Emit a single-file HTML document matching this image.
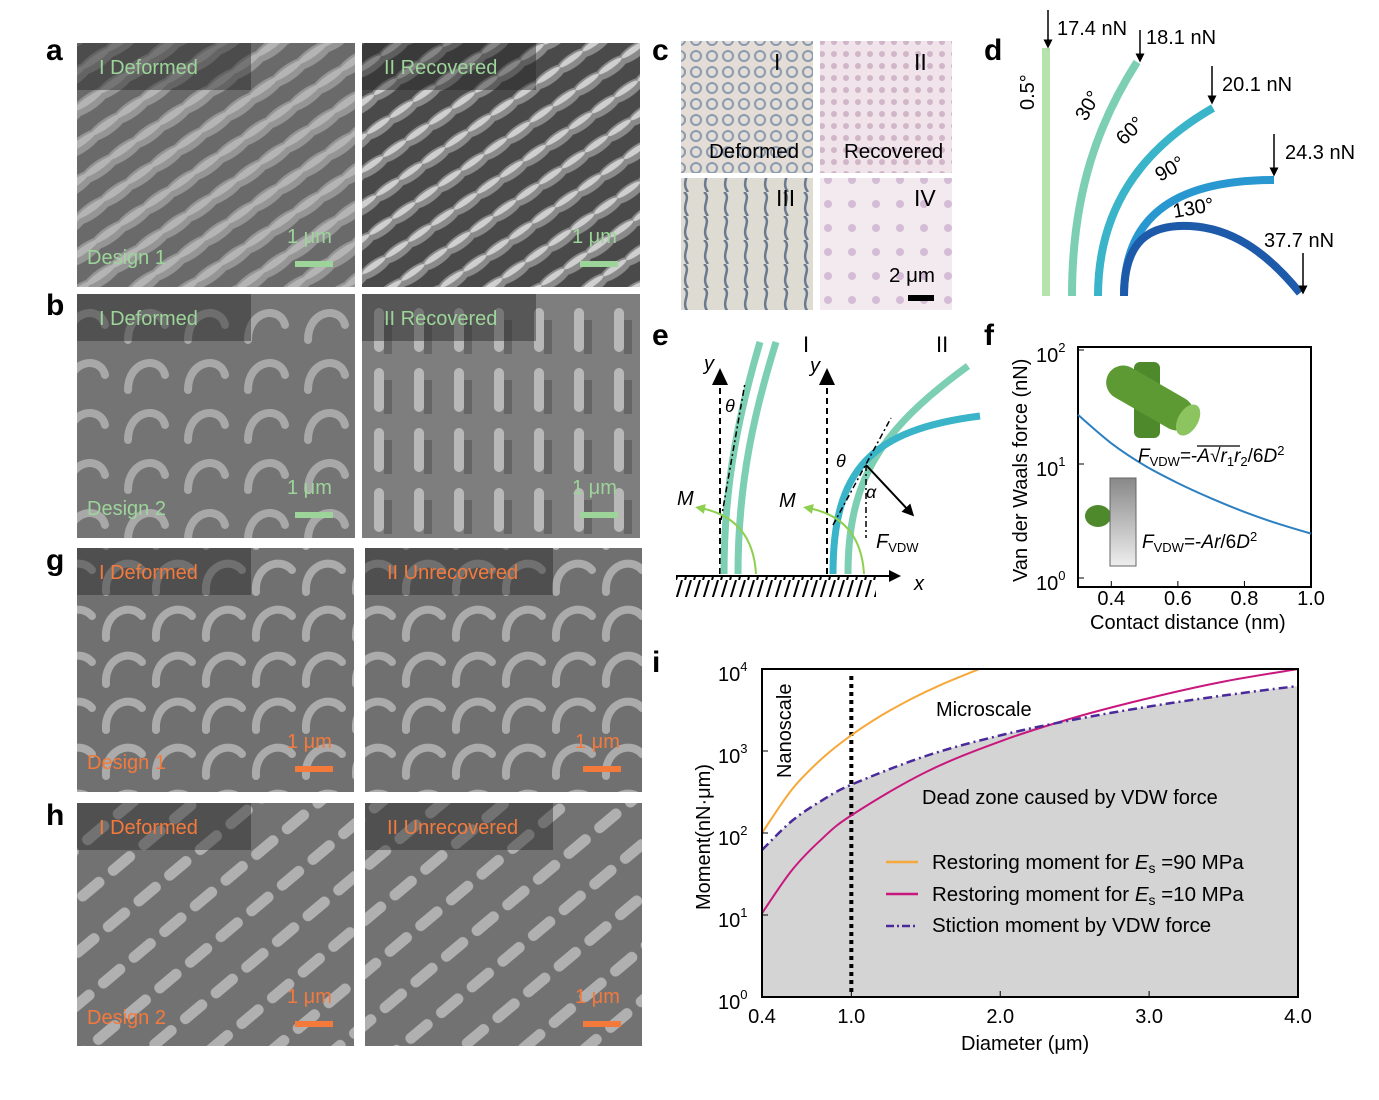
<!DOCTYPE html>
<html><head><meta charset="utf-8"><style>
html,body{margin:0;padding:0;background:#fff}
svg{display:block;font-family:"Liberation Sans",sans-serif}
</style></head><body>
<svg id="fig" width="1379" height="1100" viewBox="0 0 1379 1100">
<defs>
<pattern id="pillA" width="30" height="30" patternUnits="userSpaceOnUse" patternTransform="rotate(-35)">
<rect width="30" height="30" fill="#6a6a6a"/><ellipse cx="15" cy="15" rx="24" ry="8" fill="#959595"/><ellipse cx="15" cy="13" rx="18" ry="3.5" fill="#b4b4b4"/></pattern>
<pattern id="pillB" width="28" height="28" patternUnits="userSpaceOnUse" patternTransform="rotate(-35)">
<rect width="28" height="28" fill="#4a4a4a"/><ellipse cx="14" cy="14" rx="20" ry="7" fill="#8a8a8a"/><ellipse cx="14" cy="12" rx="14" ry="3" fill="#cfcfcf"/></pattern>
<pattern id="curl" width="60" height="50" patternUnits="userSpaceOnUse">
<rect width="60" height="50" fill="#747474"/><path d="M8 40 C8 10 40 5 45 25" stroke="#a8a8a8" stroke-width="8" fill="none" stroke-linecap="round"/></pattern>
<pattern id="stand" width="40" height="60" patternUnits="userSpaceOnUse">
<rect width="40" height="60" fill="#7e7e7e"/><rect x="14" y="8" width="10" height="44" rx="5" fill="#b8b8b8"/><rect x="24" y="20" width="8" height="34" fill="#666"/></pattern>
<pattern id="curl2" width="50" height="46" patternUnits="userSpaceOnUse">
<rect width="50" height="46" fill="#707070"/><path d="M6 40 C4 14 30 4 42 18" stroke="#ababab" stroke-width="8" fill="none" stroke-linecap="round"/></pattern>
<pattern id="diag" width="40" height="40" patternUnits="userSpaceOnUse" patternTransform="rotate(-40)">
<rect width="40" height="40" fill="#727272"/><rect x="2" y="14" width="32" height="11" rx="5" fill="#b0b0b0"/></pattern>
<pattern id="dots1" width="16" height="16" patternUnits="userSpaceOnUse">
<rect width="16" height="16" fill="#e4ddd6"/><circle cx="8" cy="8" r="5" fill="none" stroke="#8a9ab0" stroke-width="2"/></pattern>
<pattern id="dots2" width="12" height="12" patternUnits="userSpaceOnUse">
<rect width="12" height="12" fill="#f0e4ea"/><circle cx="6" cy="6" r="3" fill="#d0b6c8"/></pattern>
<pattern id="wavy" width="20" height="24" patternUnits="userSpaceOnUse">
<rect width="20" height="24" fill="#dedbd2"/><path d="M4 0 C12 6 0 14 8 24" stroke="#6a7a90" stroke-width="2.5" fill="none"/></pattern>
<pattern id="dots4" width="24" height="24" patternUnits="userSpaceOnUse">
<rect width="24" height="24" fill="#f2eaee"/><circle cx="12" cy="12" r="4" fill="#d4bcd6"/></pattern>
<pattern id="hatch" width="9" height="20" patternUnits="userSpaceOnUse"><path d="M7 0 L1 20" stroke="#000" stroke-width="2"/></pattern>
<marker id="ah" viewBox="0 0 10 10" refX="5" refY="5" markerWidth="6" markerHeight="6" orient="auto"><path d="M0 0 L10 5 L0 10z" fill="#000"/></marker>
<marker id="ahg" viewBox="0 0 10 10" refX="5" refY="5" markerWidth="5" markerHeight="5" orient="auto"><path d="M0 0 L10 5 L0 10z" fill="#8dcf4f"/></marker>
</defs>

<g>
<text x="46" y="60" font-size="30" font-weight="bold">a</text>
<rect x="77" y="43" width="278" height="244" fill="url(#pillA)"/>
<rect x="362" y="43" width="278" height="244" fill="url(#pillB)"/>
</g>
<g>
<text x="46" y="315" font-size="30" font-weight="bold">b</text>
<rect x="77" y="294" width="278" height="244" fill="url(#curl)"/>
<rect x="362" y="294" width="278" height="244" fill="url(#stand)"/>
</g>
<g>
<text x="46" y="570" font-size="30" font-weight="bold">g</text>
<rect x="77" y="548" width="277" height="244" fill="url(#curl2)"/>
<rect x="365" y="548" width="277" height="244" fill="url(#curl2)"/>
</g>
<g>
<text x="46" y="825" font-size="30" font-weight="bold">h</text>
<rect x="77" y="803" width="277" height="243" fill="url(#diag)"/>
<rect x="365" y="803" width="277" height="243" fill="url(#diag)"/>
</g>
<g id="semlabels" font-size="20"></g>

<g>
<text x="652" y="60" font-size="30" font-weight="bold">c</text>
<rect x="681" y="41" width="132" height="132" fill="url(#dots1)"/>
<rect x="820" y="41" width="132" height="132" fill="url(#dots2)"/>
<rect x="681" y="178" width="132" height="132" fill="url(#wavy)"/>
<rect x="820" y="178" width="132" height="132" fill="url(#dots4)"/>
<g font-size="23"><text x="774" y="70">I</text><text x="914" y="70">II</text><text x="776" y="206">III</text><text x="914" y="206">IV</text></g>
<g font-size="20.5"><text x="709" y="158">Deformed</text><text x="844" y="158">Recovered</text><text x="889" y="282">2 μm</text></g>
<rect x="908" y="295" width="26" height="6" fill="#000"/>
</g>

<g fill="none" stroke-width="8">
<text x="984" y="60" font-size="30" font-weight="bold" fill="#000" stroke="none">d</text>
<line x1="1046" y1="296" x2="1046" y2="48" stroke="#b6e2ae"/>
<path d="M1072 296 C1072 190 1100 120 1137 62" stroke="#7ccfb3"/>
<path d="M1098 296 C1098 210 1140 150 1213 108" stroke="#39b4c8"/>
<path d="M1124 296 C1124 220 1170 180 1274 180" stroke="#2a98d0"/>
<path d="M1124 296 C1124 240 1150 224 1190 226 C1230 228 1265 250 1300 293" stroke="#1e5aaa"/>
<g stroke="#000" stroke-width="1.5" marker-end="url(#ah)">
<line x1="1048" y1="10" x2="1048" y2="44"/><line x1="1140" y1="30" x2="1140" y2="58"/>
<line x1="1212" y1="66" x2="1212" y2="100"/><line x1="1274" y1="134" x2="1274" y2="172"/><line x1="1303" y1="253" x2="1303" y2="290"/></g>
<g font-size="20" fill="#000" stroke="none">
<text x="1057" y="35">17.4 nN</text><text x="1146" y="44">18.1 nN</text><text x="1222" y="91">20.1 nN</text><text x="1285" y="159">24.3 nN</text><text x="1264" y="247">37.7 nN</text>
<text transform="translate(1034,110) rotate(-90)">0.5°</text>
<text transform="translate(1086,122) rotate(-60)">30°</text>
<text transform="translate(1124,146) rotate(-45)">60°</text>
<text transform="translate(1160,182) rotate(-30)">90°</text>
<text transform="translate(1174,218) rotate(-10)">130°</text></g>
</g>

<g>
<text x="652" y="345" font-size="30" font-weight="bold">e</text>
<line x1="676" y1="576" x2="895" y2="576" stroke="#000" stroke-width="2" marker-end="url(#ah)"/>
<rect x="676" y="577" width="200" height="20" fill="url(#hatch)"/>
<text x="914" y="590" font-size="20" font-style="italic">x</text>
<g stroke="#000" stroke-width="2" stroke-dasharray="6,4" fill="none">
<line x1="720" y1="574" x2="720" y2="372"/><line x1="827" y1="574" x2="827" y2="372"/></g>
<path d="M712 385 L720 368 L728 385z M819 385 L827 368 L835 385z"/>
<g font-size="20" font-style="italic"><text x="704" y="370">y</text><text x="810" y="372">y</text>
<text x="725" y="412" font-size="18">θ</text><text x="836" y="467" font-size="18">θ</text><text x="866" y="498" font-size="18">α</text>
<text x="677" y="505">M</text><text x="779" y="507">M</text><text x="876" y="548">F<tspan font-size="13" font-style="normal" dy="4">VDW</tspan></text></g>
<text x="803" y="352" font-size="22">I</text><text x="936" y="352" font-size="22">II</text>
<g fill="none" stroke-width="7">
<path d="M724 574 C724 480 740 410 760 342" stroke="#7ccfb3"/>
<path d="M738 574 C738 480 755 410 776 342" stroke="#7ccfb3"/>
<path d="M848 574 C848 480 880 430 968 366" stroke="#7ccfb3"/>
<path d="M833 574 C833 470 870 430 980 416" stroke="#39b4c8"/></g>
<g fill="none" stroke="#000" stroke-width="1.5" stroke-dasharray="6,3,2,3">
<line x1="721" y1="520" x2="745" y2="383"/><line x1="833" y1="525" x2="891" y2="418"/><line x1="866" y1="465" x2="866" y2="538"/></g>
<line x1="866" y1="465" x2="910" y2="512" stroke="#000" stroke-width="2" marker-end="url(#ah)"/>
<g fill="none" stroke="#8dcf4f" stroke-width="2">
<path d="M756 574 C754 540 738 515 700 508" marker-end="url(#ahg)"/>
<path d="M864 574 C862 540 846 515 808 508" marker-end="url(#ahg)"/></g>
</g>

<g>
<text x="984" y="345" font-size="30" font-weight="bold">f</text>
<rect x="1078" y="347" width="233" height="240" fill="none" stroke="#000" stroke-width="2"/>
<g id="fAxes"></g>
<path id="fCurve" fill="none" stroke="#2c7fc0" stroke-width="2"/>
<text transform="translate(1027,582) rotate(-90)" font-size="20">Van der Waals force (nN)</text>
<text x="1090" y="629" font-size="20">Contact distance (nm)</text>
<g>
<rect x="1134" y="362" width="26" height="76" rx="6" fill="#4e8a2c"/>
<g transform="translate(1150,398) rotate(30)"><rect x="-48" y="-17" width="96" height="34" rx="17" fill="#5e9a34"/><ellipse cx="44" cy="0" rx="10" ry="17" fill="#8cc460"/></g>
<ellipse cx="1098" cy="516" rx="13" ry="11" fill="#4e8a2c"/>
<defs><linearGradient id="gb" x1="0" y1="0" x2="0" y2="1"><stop offset="0" stop-color="#888"/><stop offset="1" stop-color="#eee"/></linearGradient></defs>
<rect x="1110" y="478" width="26" height="88" fill="url(#gb)" stroke="#666"/></g>
<g font-size="19"><text x="1138" y="462"><tspan font-style="italic">F</tspan><tspan font-size="13" dy="4">VDW</tspan><tspan dy="-4">=-</tspan><tspan font-style="italic">A</tspan>√<tspan font-style="italic">r</tspan><tspan font-size="13" dy="4">1</tspan><tspan font-style="italic" dy="-4">r</tspan><tspan font-size="13" dy="4">2</tspan><tspan dy="-4">/6</tspan><tspan font-style="italic">D</tspan><tspan font-size="13" dy="-7">2</tspan></text>
<line x1="1197" y1="446" x2="1240" y2="446" stroke="#000" stroke-width="1.2"/>
<text x="1142" y="548"><tspan font-style="italic">F</tspan><tspan font-size="13" dy="4">VDW</tspan><tspan dy="-4">=-</tspan><tspan font-style="italic">Ar</tspan><tspan>/6</tspan><tspan font-style="italic">D</tspan><tspan font-size="13" dy="-7">2</tspan></text></g>
</g>

<g>
<text x="652" y="672" font-size="30" font-weight="bold">i</text>
<path id="iFill" fill="#d4d4d4" stroke="none"/>
<line id="iNano" stroke="#000" stroke-width="4" stroke-dasharray="4,4"/>
<path id="iOrange" fill="none" stroke="#f6a83a" stroke-width="2"/>
<path id="iMag" fill="none" stroke="#c8187e" stroke-width="2"/>
<path id="iVdw" fill="none" stroke="#4a2a9a" stroke-width="2.5" stroke-dasharray="9,4,2,4"/>
<rect x="762" y="669" width="536" height="328" fill="none" stroke="#000" stroke-width="2"/>
<g id="iAxes"></g>
<text transform="translate(791,778) rotate(-90)" font-size="20">Nanoscale</text>
<text x="936" y="716" font-size="20">Microscale</text>
<text x="922" y="804" font-size="20">Dead zone caused by VDW force</text>
<g font-size="20.5">
<line x1="886" y1="862" x2="918" y2="862" stroke="#f6a83a" stroke-width="2.5"/><text x="932" y="869">Restoring moment for <tspan font-style="italic">E</tspan><tspan font-size="14" dy="4">s</tspan><tspan dy="-4"> =90 MPa</tspan></text>
<line x1="886" y1="894" x2="918" y2="894" stroke="#c8187e" stroke-width="2.5"/><text x="932" y="901">Restoring moment for <tspan font-style="italic">E</tspan><tspan font-size="14" dy="4">s</tspan><tspan dy="-4"> =10 MPa</tspan></text>
<line x1="886" y1="926" x2="918" y2="926" stroke="#4a2a9a" stroke-width="2.5" stroke-dasharray="8,3,2,3"/><text x="932" y="932">Stiction moment by VDW force</text></g>
<text transform="translate(710,910) rotate(-90)" font-size="20">Moment(nN·μm)</text>
<text x="961" y="1050" font-size="20">Diameter (μm)</text>
</g>
</svg>
<script>
const fDist = [0.3,0.4,0.5,0.6,0.7,0.8,0.9,1.0];
const fForce = [27,15.2,9.7,6.8,5.0,3.8,3.0,2.45];
const fXTicks = [0.4,0.6,0.8,1.0];
const fYTicks = [0,1,2];
const iDiamO = [0.4,0.6,0.8,1.0,1.2,1.4,1.6,1.86];
const iOrange = [100,338,800,1560,2700,4290,6400,10000];
const iDiam = [0.4,0.6,0.8,1.0,1.5,2.0,2.5,3.0,3.5,4.0];
const iMagenta = [10.5,35,84,164,553,1310,2560,4420,7020,10000];
const iVdw = [62,140,248,388,870,1550,2420,3490,4750,6200];
const iXTicks = [0.4,1.0,2.0,3.0,4.0];
const iYTicks = [0,1,2,3,4];

const NS="http://www.w3.org/2000/svg";
function mk(tag,attrs,parent,txt){const e=document.createElementNS(NS,tag);for(const k in attrs)e.setAttribute(k,attrs[k]);if(txt!==undefined)e.textContent=txt;parent.appendChild(e);return e;}
function pathFrom(xs,ys,fx,fy){
  const p=xs.map((x,i)=>[fx(x),fy(ys[i])]);
  let d='M'+p[0][0].toFixed(1)+' '+p[0][1].toFixed(1);
  for(let i=0;i<p.length-1;i++){
    const p0=p[Math.max(0,i-1)],p1=p[i],p2=p[i+1],p3=p[Math.min(p.length-1,i+2)];
    const c1=[p1[0]+(p2[0]-p0[0])/6,p1[1]+(p2[1]-p0[1])/6];
    const c2=[p2[0]-(p3[0]-p1[0])/6,p2[1]-(p3[1]-p1[1])/6];
    d+=' C'+c1.map(v=>v.toFixed(1)).join(' ')+' '+c2.map(v=>v.toFixed(1)).join(' ')+' '+p2[0].toFixed(1)+' '+p2[1].toFixed(1);
  }
  return d;
}

const fx=d=>1078+(d-0.3)/0.7*233;
const fy=v=>578-Math.log10(v)*114;
document.getElementById('fCurve').setAttribute('d',pathFrom(fDist,fForce,fx,fy));
const fa=document.getElementById('fAxes');
fXTicks.forEach(t=>{mk('line',{x1:fx(t),y1:587,x2:fx(t),y2:581,stroke:'#000'},fa);
const tl=mk('text',{x:fx(t),y:605,'font-size':20,'text-anchor':'middle'},fa,t.toFixed(1));

});
fYTicks.forEach(t=>{const y=fy(Math.pow(10,t));mk('line',{x1:1078,y1:y,x2:1084,y2:y,stroke:'#000'},fa);
const tl=mk('text',{x:1036,y:y+12,'font-size':20},fa);tl.innerHTML='10<tspan font-size="13" dy="-10">'+t+'</tspan>';

});

const ix=d=>762+(d-0.4)/3.6*536;
const iy=v=>997-Math.log10(v)*82;
document.getElementById('iOrange').setAttribute('d',pathFrom(iDiamO,iOrange,ix,iy));
document.getElementById('iMag').setAttribute('d',pathFrom(iDiam,iMagenta,ix,iy));
const vp=pathFrom(iDiam,iVdw,ix,iy);
document.getElementById('iVdw').setAttribute('d',vp);
document.getElementById('iFill').setAttribute('d',vp+' L1298 997 L762 997 Z');
const nl=document.getElementById('iNano');
nl.setAttribute('x1',ix(1.0));nl.setAttribute('x2',ix(1.0));nl.setAttribute('y1',676);nl.setAttribute('y2',997);
const ia=document.getElementById('iAxes');
iXTicks.forEach(t=>{mk('line',{x1:ix(t),y1:997,x2:ix(t),y2:991,stroke:'#000'},ia);
const tl=mk('text',{x:ix(t),y:1023,'font-size':20,'text-anchor':'middle'},ia,t.toFixed(1));

});
iYTicks.forEach(t=>{const y=iy(Math.pow(10,t));mk('line',{x1:762,y1:y,x2:768,y2:y,stroke:'#000'},ia);
const tl=mk('text',{x:718,y:y+12,'font-size':20},ia);tl.innerHTML='10<tspan font-size="13" dy="-10">'+t+'</tspan>';

});

const sl=document.getElementById('semlabels');
const semBoxes=[[77,43,'I Deformed','#9dd49a','Design 1'],[362,43,'II Recovered','#9dd49a',''],[77,294,'I Deformed','#9dd49a','Design 2'],[362,294,'II Recovered','#9dd49a',''],
[77,548,'I Deformed','#f47a3c','Design 1'],[365,548,'II Unrecovered','#f47a3c',''],[77,803,'I Deformed','#f47a3c','Design 2'],[365,803,'II Unrecovered','#f47a3c','']];
semBoxes.forEach(b=>{
mk('rect',{x:b[0],y:b[1],width:b[2].length>12?188:174,height:47,fill:'rgba(40,40,40,0.45)'},sl);
mk('text',{x:b[0]+22,y:b[1]+31,fill:b[3]},sl,b[2]);
if(b[4])mk('text',{x:b[0]+10,y:b[1]+221,fill:b[3]},sl,b[4]);
mk('text',{x:b[0]+210,y:b[1]+200,fill:b[3]},sl,'1 μm');
mk('rect',{x:b[0]+218,y:b[1]+218,width:38,height:6,fill:b[3]},sl);
});
</script>
</body></html>
